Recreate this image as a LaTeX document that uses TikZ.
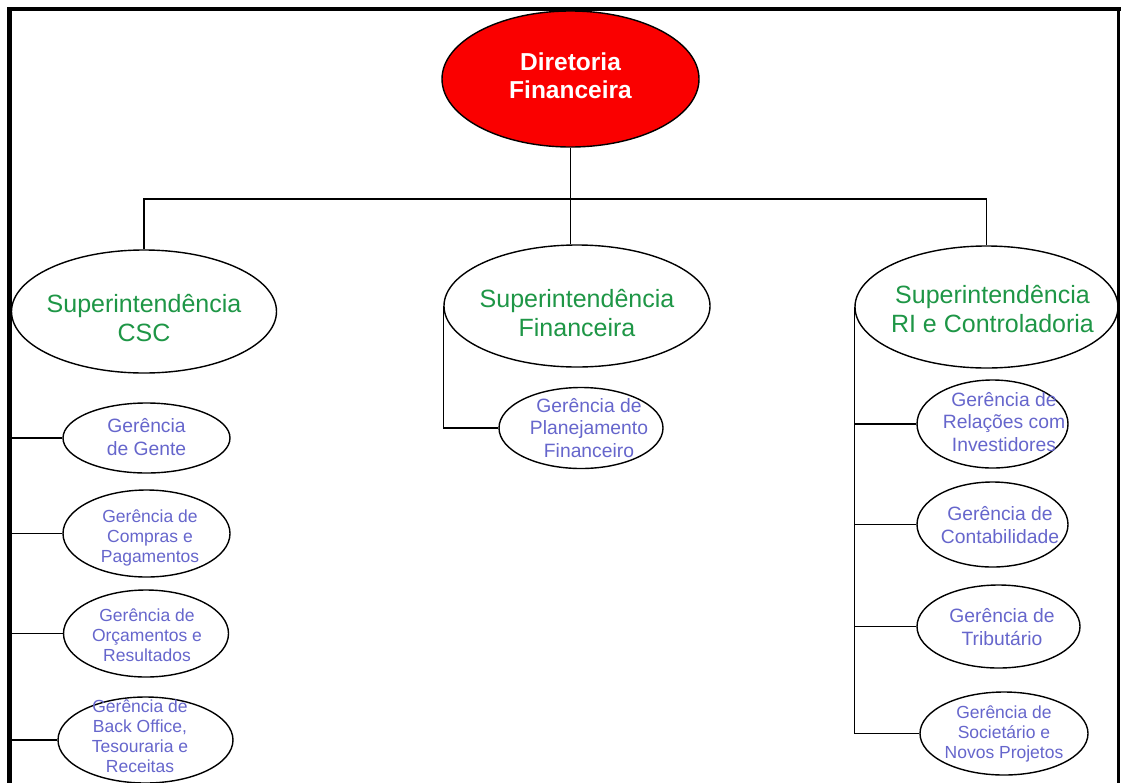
\documentclass[tikz,border=0pt]{standalone}
\usepackage{fontspec}
\setmainfont{Liberation Sans}
\usetikzlibrary{shapes.geometric}
\definecolor{dirred}{RGB}{250,0,0}
\definecolor{supgreen}{RGB}{30,150,70}
\definecolor{gerblue}{RGB}{102,102,204}
\begin{document}
\begin{tikzpicture}[x=1pt,y=-1pt,
  ell/.style={draw=black, ellipse, inner sep=0pt, line width=1.4pt},
  dirbox/.style={ell, fill=dirred},
  supbox/.style={ell, fill=white},
  gerbox/.style={ell, fill=white},
  dirtxt/.style={align=center, text=white, inner sep=0pt, font=\fontsize{24.5}{28}\selectfont\bfseries},
  suptxt/.style={align=center, text=supgreen, inner sep=0pt, font=\fontsize{25}{29}\selectfont},
  gertxtA/.style={align=center, text=gerblue, inner sep=0pt, font=\fontsize{19.3}{22.5}\selectfont},
  gertxtB/.style={align=center, text=gerblue, inner sep=0pt, font=\fontsize{17.5}{20}\selectfont},
  conn/.style={line width=1.6pt}]
\useasboundingbox (0,0) rectangle (1121,782);
\fill[white] (0,0) rectangle (1121,782);

% coordinates
\coordinate (bar) at (570.5,199);
\coordinate (lspine) at (12,0);

% nodes
\node[dirbox, minimum width=257pt, minimum height=136pt] (dir) at (570.5,79) {};
\node[dirtxt] (dirT) at (570.5,76) {Diretoria\\Financeira};

\node[supbox, minimum width=265pt, minimum height=123pt] (supL) at (144,311.5) {};
\node[supbox, minimum width=266pt, minimum height=122pt] (supM) at (577,306) {};
\node[supbox, minimum width=263pt, minimum height=122pt] (supR) at (986.5,307) {};

\node[gerbox, minimum width=167pt, minimum height=70pt] (g1) at (146.5,438) {};
\node[gerbox, minimum width=167pt, minimum height=87pt] (g2) at (146.5,533.5) {};
\node[gerbox, minimum width=165pt, minimum height=87pt] (g3) at (146,633.5) {};
\node[gerbox, minimum width=175pt, minimum height=86pt] (g4) at (145.5,740) {};

\node[gerbox, minimum width=164pt, minimum height=81pt] (p1) at (581,428) {};

\node[gerbox, minimum width=151pt, minimum height=88pt] (r1) at (992.5,424) {};
\node[gerbox, minimum width=151pt, minimum height=85pt] (r2) at (992.5,524.5) {};
\node[gerbox, minimum width=163pt, minimum height=83pt] (r3) at (998.5,626.5) {};
\node[gerbox, minimum width=168pt, minimum height=83pt] (r4) at (1004,733.5) {};

% connectors
\draw[conn] (dir.south) -- (dir.south |- supM.north);
\draw[conn] (supL.north) -- (supL.north |- bar) -- (supR.north |- bar) -- (supR.north);
\draw[conn] (supM.west) |- (p1.west);
\draw[conn] (supR.west) |- (r4.west);
\draw[conn] (r1.west) -- (r1.west -| supR.west);
\draw[conn] (r2.west) -- (r2.west -| supR.west);
\draw[conn] (r3.west) -- (r3.west -| supR.west);
\draw[conn] (g1.west) -- (g1.west -| lspine);
\draw[conn] (g2.west) -- (g2.west -| lspine);
\draw[conn] (g3.west) -- (g3.west -| lspine);
\draw[conn] (g4.west) -- (g4.west -| lspine);

% texts
\node[suptxt] (supLT) at (144,318) {Superintendência\\CSC};
\node[suptxt] (supMT) at (577,313) {Superintendência\\Financeira};
\node[suptxt] (supRT) at (992.5,309) {Superintendência\\RI e Controladoria};

\node[gertxtA] (g1T) at (146.5,437) {Gerência\\de Gente};
\node[gertxtB] (g2T) at (150,538) {Gerência de\\Compras e\\Pagamentos};
\node[gertxtB] (g3T) at (147,635) {Gerência de\\Orçamentos e\\Resultados};
\node[gertxtB] (g4T) at (140,736) {Gerência de\\Back Office,\\Tesouraria e\\Receitas};

\node[gertxtA] (p1T) at (589,428) {Gerência de\\Planejamento\\Financeiro};

\node[gertxtA] (r1T) at (1004,422) {Gerência de\\Relações com\\Investidores};
\node[gertxtA] (r2T) at (1000,525) {Gerência de\\Contabilidade};
\node[gertxtA] (r3T) at (1002,627) {Gerência de\\Tributário};
\node[gertxtB] (r4T) at (1004,734) {Gerência de\\Societário e\\Novos Projetos};

% frame
\draw[line width=5pt] (9.5,7) -- (9.5,790);
\draw[line width=4pt] (7,9) -- (1121,9);
\draw[line width=3pt] (1118.5,7) -- (1118.5,790);
\end{tikzpicture}
\end{document}
